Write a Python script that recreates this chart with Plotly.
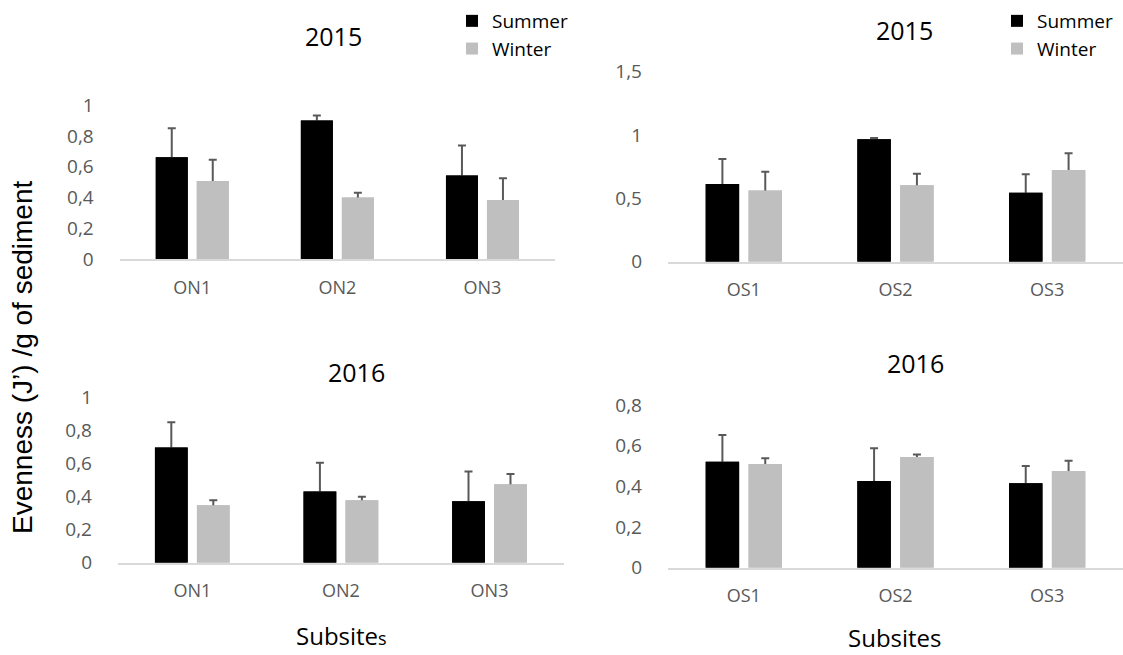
import plotly.graph_objects as go

W, H = 1123, 655

# ---------------- data ----------------
sites_north = ["ON1", "ON2", "ON3"]
sites_south = ["OS1", "OS2", "OS3"]
series_names = ["Summer", "Winter"]

# 2015 north
n15_summer = [0.662, 0.900, 0.543]
n15_summer_err = [0.188, 0.032, 0.195]
n15_winter = [0.508, 0.400, 0.385]
n15_winter_err = [0.137, 0.032, 0.141]

# 2015 south
s15_summer = [0.613, 0.966, 0.545]
s15_summer_err = [0.197, 0.010, 0.145]
s15_winter = [0.563, 0.603, 0.724]
s15_winter_err = [0.147, 0.092, 0.132]

# 2016 north
n16_summer = [0.696, 0.430, 0.371]
n16_summer_err = [0.153, 0.175, 0.180]
n16_winter = [0.347, 0.377, 0.474]
n16_winter_err = [0.030, 0.022, 0.062]

# 2016 south
s16_summer = [0.521, 0.426, 0.415]
s16_summer_err = [0.132, 0.161, 0.085]
s16_winter = [0.510, 0.544, 0.476]
s16_winter_err = [0.028, 0.012, 0.050]

ticks_tl = [0, 0.2, 0.4, 0.6, 0.8, 1]
ticks_tl_text = ["0", "0,2", "0,4", "0,6", "0,8", "1"]
ticks_tr = [0, 0.5, 1, 1.5]
ticks_tr_text = ["0", "0,5", "1", "1,5"]
ticks_bl = [0, 0.2, 0.4, 0.6, 0.8, 1]
ticks_bl_text = ["0", "0,2", "0,4", "0,6", "0,8", "1"]
ticks_br = [0, 0.2, 0.4, 0.6, 0.8]
ticks_br_text = ["0", "0,2", "0,4", "0,6", "0,8"]

titles = ["2015", "2015", "2016", "2016"]
x_titles = ["Subsite<span style='font-size:18px'>s</span>", "Subsites"]
y_title = "Evenness (J’) /g of sediment"

# ---------------- styling ----------------
SUMMER_C = "#000000"
WINTER_C = "#bfbfbf"
ERR_C = "#595959"
TICK_C = "#595959"
AXIS_C = "#d9d9d9"
FONT = "Open Sans"


def px_x(p):
    return p / W


def px_y(p):
    return 1 - p / H


fig = go.Figure()

panels = [
    ("x", "y", sites_north, n15_summer, n15_summer_err, n15_winter, n15_winter_err, "legend"),
    ("x2", "y2", sites_south, s15_summer, s15_summer_err, s15_winter, s15_winter_err, "legend2"),
    ("x3", "y3", sites_north, n16_summer, n16_summer_err, n16_winter, n16_winter_err, None),
    ("x4", "y4", sites_south, s16_summer, s16_summer_err, s16_winter, s16_winter_err, None),
]

for xa, ya, cats, sv, se, wv, we, leg in panels:
    series = [(series_names[0], sv, se, SUMMER_C, "s"), (series_names[1], wv, we, WINTER_C, "w")]
    # layer 1: bars carrying the (symmetric) error bars
    for name, vals, errs, col, og in series:
        kw = dict(legend=leg, showlegend=True) if leg else dict(showlegend=False)
        fig.add_trace(go.Bar(
            x=cats, y=vals, name=name, xaxis=xa, yaxis=ya, offsetgroup=og,
            marker=dict(color=col, line=dict(width=0)),
            error_y=dict(type="data", array=errs, color=ERR_C, thickness=2, width=4),
            hoverinfo="skip", **kw,
        ))
    # layer 2: same bars drawn on top, hiding the lower half of each error bar
    for name, vals, errs, col, og in series:
        fig.add_trace(go.Bar(
            x=cats, y=vals, name=name, xaxis=xa, yaxis=ya, offsetgroup=og,
            marker=dict(color=col, line=dict(width=0)), showlegend=False,
        ))

dom = {
    "1": dict(x=[px_x(119.7), px_x(555)], y=[px_y(259.3), px_y(105)], rng=[0, 1],
             tv=ticks_tl, tt=ticks_tl_text),
    "2": dict(x=[px_x(668), 1.0], y=[px_y(261.7), px_y(71.7)], rng=[0, 1.5],
             tv=ticks_tr, tt=ticks_tr_text),
    "3": dict(x=[px_x(118), px_x(563.8)], y=[px_y(562.7), px_y(397.3)], rng=[0, 1],
             tv=ticks_bl, tt=ticks_bl_text),
    "4": dict(x=[px_x(668), 1.0], y=[px_y(567.7), px_y(405)], rng=[0, 0.8],
             tv=ticks_br, tt=ticks_br_text),
}

layout_axes = {}
for k, d in dom.items():
    xs = "xaxis" if k == "1" else f"xaxis{k}"
    ys = "yaxis" if k == "1" else f"yaxis{k}"
    yid = "y" if k == "1" else f"y{k}"
    xid = "x" if k == "1" else f"x{k}"
    layout_axes[xs] = dict(
        domain=d["x"], anchor=yid, type="category", range=[-0.5, 2.5],
        showline=True, linecolor=AXIS_C, linewidth=1.5, showgrid=False, zeroline=False,
        ticks="", tickfont=dict(family=FONT, size=18, color=TICK_C),
        ticklabelstandoff=11, fixedrange=True, automargin=False,
    )
    layout_axes[ys] = dict(
        domain=d["y"], anchor=xid, range=d["rng"], tickvals=d["tv"], ticktext=d["tt"],
        showline=False, showgrid=False, zeroline=False, ticks="",
        tickfont=dict(family=FONT, size=19, color=TICK_C),
        ticklabelstandoff=25, fixedrange=True, automargin=False,
    )

annotations = []
title_pos = [(333, 36), (904, 30), (356, 371.7), (915, 363)]
for t, (px, py) in zip(titles, title_pos):
    annotations.append(dict(text=t, x=px_x(px), y=px_y(py), xref="paper", yref="paper",
                            showarrow=False, xanchor="center", yanchor="middle",
                            font=dict(family=FONT, size=25, color="#000000")))

for t, (px, py) in zip(x_titles, [(341, 635), (895, 637)]):
    annotations.append(dict(text=t, x=px_x(px), y=px_y(py), xref="paper", yref="paper",
                            showarrow=False, xanchor="center", yanchor="middle",
                            font=dict(family=FONT, size=24, color="#000000")))

annotations.append(dict(text=y_title, x=px_x(22), y=px_y(358), xref="paper", yref="paper",
                        showarrow=False, xanchor="center", yanchor="middle", textangle=-90,
                        font=dict(family="Liberation Sans", size=28, color="#000000")))

fig.update_layout(
    width=W, height=H, margin=dict(l=0, r=0, t=0, b=0, pad=0, autoexpand=False),
    paper_bgcolor="white", plot_bgcolor="white",
    barmode="group", bargap=0.435, bargroupgap=0.22,
    annotations=annotations,
    legend=dict(x=px_x(452), y=px_y(2), xanchor="left", yanchor="top",
                font=dict(family=FONT, size=19, color="#000000"),
                bgcolor="rgba(0,0,0,0)", tracegroupgap=0, itemclick=False),
    legend2=dict(x=px_x(997), y=px_y(2), xanchor="left", yanchor="top",
                 font=dict(family=FONT, size=19, color="#000000"),
                 bgcolor="rgba(0,0,0,0)", tracegroupgap=0, itemclick=False),
    **layout_axes,
)

fig.write_html(
    "out.html",
    config={"responsive": False, "displayModeBar": False},
    post_script="document.body.style.margin='0';document.body.style.overflow='hidden';"
                "document.documentElement.style.overflow='hidden';",
)
